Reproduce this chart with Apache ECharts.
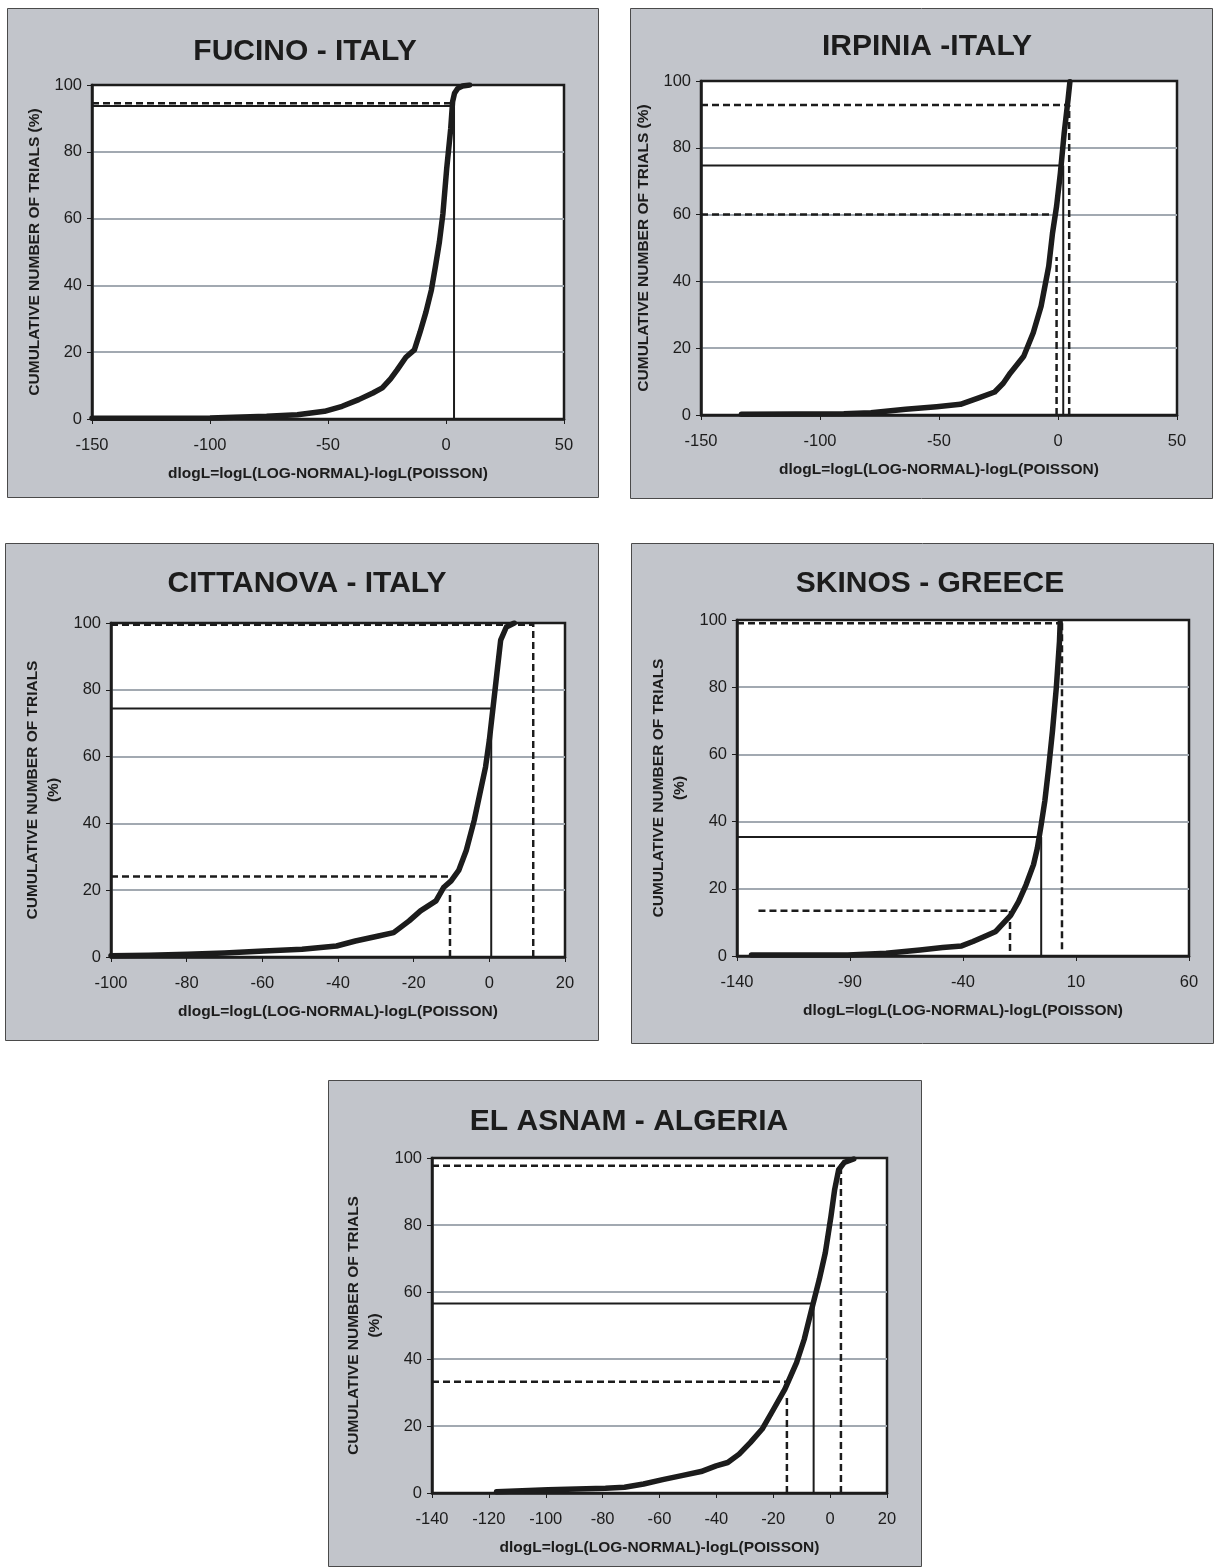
<!DOCTYPE html>
<html>
<head>
<meta charset="utf-8">
<script src="https://cdn.jsdelivr.net/npm/echarts@6/dist/echarts.min.js"></script>
<style>
  html, body { margin: 0; padding: 0; background: #ffffff; }
  #chart { width: 1214px; height: 1568px; }
</style>
</head>
<body>
<div id="chart"></div>
<script>
// Cumulative distributions of dlogL = logL(LOG-NORMAL) - logL(POISSON) for five sites.
const yTicks = [0, 20, 40, 60, 80, 100];
const xAxisTitle = 'dlogL=logL(LOG-NORMAL)-logL(POISSON)';
const yAxisTitleOneLine = 'CUMULATIVE NUMBER OF TRIALS (%)';
const yAxisTitleTwoLines = 'CUMULATIVE NUMBER OF TRIALS\n(%)';

// FUCINO - ITALY
const fucinoTitle = 'FUCINO - ITALY';
const fucinoXTicks = [-150, -100, -50, 0, 50];
const fucinoDlogL = [-150, -125, -100, -90, -76, -63, -51.5, -44, -37, -31, -27, -23.5, -20.7, -17, -13.4, -11, -8.5, -6.2, -4.5, -2.8, -1.3, 0.3, 1.3, 2, 2.8, 3.6, 5, 7, 10];
const fucinoCum   = [0.2, 0.25, 0.3, 0.5, 0.8, 1.3, 2.3, 3.8, 5.8, 7.8, 9.3, 12, 14.7, 18.5, 20.7, 26, 32, 38.6, 45.6, 53, 61.5, 75, 82, 87, 95, 97.5, 99, 99.7, 100];
const fucinoSolid  = [[-150, 93.7, 3.4, 93.7], [3.4, 0, 3.4, 93.7]];
const fucinoDashed = [[-150, 94.5, 2.6, 94.5]];

// IRPINIA -ITALY
const irpiniaTitle = 'IRPINIA -ITALY';
const irpiniaXTicks = [-150, -100, -50, 0, 50];
const irpiniaDlogL = [-133, -110, -90, -78.6, -64, -51, -41, -33, -26.6, -23, -20, -14.4, -10.4, -7.1, -3.9, -2.3, -0.6, 1, 2.6, 4.2, 5];
const irpiniaCum   = [0.2, 0.3, 0.4, 0.7, 1.7, 2.5, 3.2, 5.2, 6.9, 9.5, 12.6, 17.6, 24.6, 32.6, 44.5, 54.5, 62.5, 72.4, 84.4, 94.3, 99.8];
const irpiniaSolid  = [[-150, 74.7, 0.6, 74.7], [2.2, 0, 2.2, 74.7]];
const irpiniaDashed = [[-150, 92.8, 4.8, 92.8], [-150, 60, -1, 60], [-0.6, 0, -0.6, 47.3], [4.7, 0, 4.7, 92.8]];

// CITTANOVA - ITALY
const cittanovaTitle = 'CITTANOVA - ITALY';
const cittanovaXTicks = [-100, -80, -60, -40, -20, 0, 20];
const cittanovaDlogL = [-100, -90, -79.8, -70, -59.6, -49.5, -40.4, -35.4, -29.3, -25.3, -21.2, -18.2, -14.1, -12.1, -10.1, -8.1, -6.1, -4, -2.5, -1, 0, 1, 2, 3, 4.5, 6.6];
const cittanovaCum   = [0.4, 0.5, 0.8, 1.2, 1.8, 2.3, 3.3, 4.8, 6.3, 7.3, 10.8, 13.8, 16.8, 20.8, 22.8, 25.9, 31.9, 40.9, 48.9, 56.9, 64.9, 74.9, 84.9, 94.9, 98.8, 100];
const cittanovaSolid  = [[-100, 74.4, 0.5, 74.4], [0.5, 0, 0.5, 70]];
const cittanovaDashed = [[-100, 99.5, 11.6, 99.5], [-100, 24.1, -9, 24.1], [-10.4, 0, -10.4, 19.8], [11.6, 0, 11.6, 100]];

// SKINOS - GREECE
const skinosTitle = 'SKINOS - GREECE';
const skinosXTicks = [-140, -90, -40, 10, 60];
const skinosDlogL = [-133.6, -110, -90.9, -74, -59, -49, -40.6, -35.6, -30.5, -25.5, -22.1, -18.8, -15.4, -12.1, -8.8, -7.1, -5.4, -3.8, -2.1, -0.4, 1.3, 2.7, 3];
const skinosCum   = [0.3, 0.3, 0.3, 0.8, 1.8, 2.5, 3, 4.3, 5.8, 7.3, 9.8, 12.2, 16.2, 21.2, 27.2, 32.1, 39.1, 46.1, 56, 67, 79.9, 93.8, 99.3];
const skinosSolid  = [[-140, 35.4, -6, 35.4], [-5.4, 0, -5.4, 35.4]];
const skinosDashed = [[-140, 99, 3.8, 99], [-130.5, 13.5, -19, 13.5], [-19.2, 1.5, -19.2, 13.5], [3.8, 2, 3.8, 100]];

// EL ASNAM - ALGERIA
const elAsnamTitle = 'EL ASNAM - ALGERIA';
const elAsnamXTicks = [-140, -120, -100, -80, -60, -40, -20, 0, 20];
const elAsnamDlogL = [-117.3, -99.2, -79, -72.3, -65.6, -58.9, -52.2, -45.4, -40.1, -36, -32, -28, -23.9, -19.9, -15.9, -11.8, -9.1, -6.5, -3.8, -1.7, 0.3, 1.6, 3, 5, 8.3];
const elAsnamCum   = [0.4, 1, 1.4, 1.7, 2.7, 4, 5.2, 6.4, 8.1, 9.1, 11.6, 15.1, 19.1, 25, 31, 38.9, 45.9, 54.8, 63.8, 71.7, 82.6, 90.6, 96.5, 98.7, 99.7];
const elAsnamSolid  = [[-140, 56.6, -5.8, 56.6], [-5.8, 0, -5.8, 56.6]];
const elAsnamDashed = [[-140, 97.7, 3.8, 97.7], [3.8, 0, 3.8, 97.7], [-140, 33.2, -14.7, 33.2], [-15.2, 0, -15.2, 29]];

// Page layout of each framed panel (pixels).
const panels = [
  { title: fucinoTitle, xTicks: fucinoXTicks, x: fucinoDlogL, y: fucinoCum, solid: fucinoSolid, dashed: fucinoDashed,
    yName: yAxisTitleOneLine, box: [7, 8, 591, 489], grid: [92, 85, 472, 334], titlePos: [300, 32] },
  { title: irpiniaTitle, xTicks: irpiniaXTicks, x: irpiniaDlogL, y: irpiniaCum, solid: irpiniaSolid, dashed: irpiniaDashed,
    yName: yAxisTitleOneLine, box: [630, 8, 582, 490], grid: [701, 81, 476, 334], titlePos: [922, 27] },
  { title: cittanovaTitle, xTicks: cittanovaXTicks, x: cittanovaDlogL, y: cittanovaCum, solid: cittanovaSolid, dashed: cittanovaDashed,
    yName: yAxisTitleTwoLines, box: [5, 543, 593, 497], grid: [111, 623, 454, 334], titlePos: [302, 564] },
  { title: skinosTitle, xTicks: skinosXTicks, x: skinosDlogL, y: skinosCum, solid: skinosSolid, dashed: skinosDashed,
    yName: yAxisTitleTwoLines, box: [631, 543, 582, 500], grid: [737, 620, 452, 336], titlePos: [925, 564] },
  { title: elAsnamTitle, xTicks: elAsnamXTicks, x: elAsnamDlogL, y: elAsnamCum, solid: elAsnamSolid, dashed: elAsnamDashed,
    yName: yAxisTitleTwoLines, box: [328, 1080, 593, 486], grid: [432, 1158, 455, 335], titlePos: [624, 1102] }
];

const FONT = '"Liberation Sans", Arial, Helvetica, sans-serif';
const INK = '#1c1c1c';
const GRIDGRAY = '#a2a9b1';
const NONE = 'rgba(0,0,0,0)';

const option = {
  animation: false,
  backgroundColor: '#ffffff',
  title: [], grid: [], xAxis: [], yAxis: [], series: [],
  graphic: []
};

panels.forEach((p, i) => {
  option.graphic.push({
    type: 'rect', z: -10, silent: true,
    shape: { x: p.box[0] + 0.5, y: p.box[1] + 0.5, width: p.box[2], height: p.box[3] },
    style: { fill: '#c2c5cb', stroke: '#4a4a4a', lineWidth: 1 }
  });
  option.title.push({
    text: p.title, left: p.titlePos[0], top: p.titlePos[1], textAlign: 'center',
    textStyle: { fontFamily: FONT, fontWeight: 'bold', fontSize: 30, color: INK }
  });
  option.grid.push({
    left: p.grid[0], top: p.grid[1], width: p.grid[2], height: p.grid[3],
    show: true, backgroundColor: '#ffffff', borderColor: INK, borderWidth: 2.5, containLabel: false
  });
  const xt = p.xTicks;
  option.xAxis.push({
    type: 'value', gridIndex: i, min: xt[0], max: xt[xt.length - 1], interval: xt[1] - xt[0],
    name: xAxisTitle, nameLocation: 'middle', nameGap: 47,
    nameTextStyle: { fontFamily: FONT, fontWeight: 'bold', fontSize: 15.5, color: INK },
    axisLine: { show: true, onZero: false, lineStyle: { color: INK, width: 2.5 } },
    axisTick: { show: true, length: 5, inside: false, lineStyle: { color: INK, width: 1 } },
    axisLabel: { fontFamily: FONT, fontSize: 16.5, color: INK, margin: 18 },
    splitLine: { show: false }
  });
  option.yAxis.push({
    type: 'value', gridIndex: i, min: yTicks[0], max: yTicks[yTicks.length - 1], interval: yTicks[1] - yTicks[0],
    name: p.yName, nameLocation: 'middle', nameGap: 47, nameRotate: 90,
    nameTextStyle: { fontFamily: FONT, fontWeight: 'bold', fontSize: 15.5, color: INK, lineHeight: 21 },
    axisLine: { show: true, onZero: false, lineStyle: { color: INK, width: 2.5 } },
    axisTick: { show: true, length: 5, inside: false, lineStyle: { color: INK, width: 1 } },
    axisLabel: { fontFamily: FONT, fontSize: 16.5, color: INK, margin: 10 },
    splitLine: { show: true, lineStyle: { color: [NONE, GRIDGRAY, GRIDGRAY, GRIDGRAY, GRIDGRAY, NONE], width: 2 } }
  });
  // reference lines
  p.solid.forEach(s => {
    option.series.push({
      type: 'line', xAxisIndex: i, yAxisIndex: i, symbol: 'none', silent: true, z: 3,
      data: [[s[0], s[1]], [s[2], s[3]]],
      lineStyle: { color: INK, width: 2, type: 'solid' }
    });
  });
  p.dashed.forEach(s => {
    option.series.push({
      type: 'line', xAxisIndex: i, yAxisIndex: i, symbol: 'none', silent: true, z: 3,
      data: [[s[0], s[1]], [s[2], s[3]]],
      lineStyle: { color: INK, width: 2.5, type: [7, 4] }
    });
  });
  // cumulative curve
  option.series.push({
    type: 'line', xAxisIndex: i, yAxisIndex: i, symbol: 'none', silent: true, z: 4,
    smooth: false,
    data: p.x.map((v, k) => [v, p.y[k]]),
    lineStyle: { color: INK, width: 5.5, join: 'round', cap: 'round' }
  });
});

const chart = echarts.init(document.getElementById('chart'), null, { renderer: 'canvas' });
chart.setOption(option);
</script>
</body>
</html>
